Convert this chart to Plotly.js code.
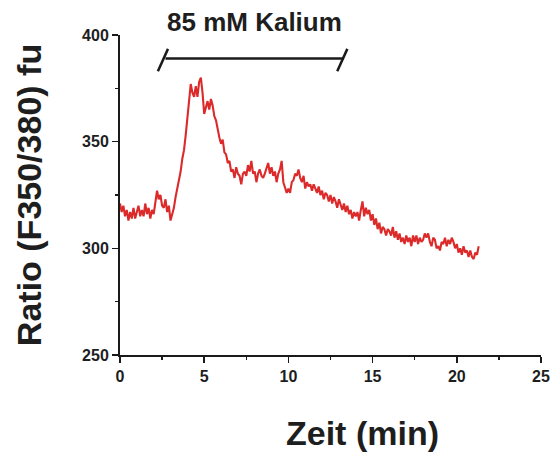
<!DOCTYPE html>
<html>
<head>
<meta charset="utf-8">
<script src="https://cdn.plot.ly/plotly-3.0.1.min.js"></script>
<style>html,body{margin:0;padding:0;background:#fff;}#chart{width:553px;height:454px;}</style>
</head>
<body>
<div id="chart"></div>
<script>
const timeMin = [
0.0,0.1,0.2,0.3,0.4,0.5,0.6,0.7,0.8,0.9,1.0,1.1,1.2,1.3,1.4,1.5,1.6,1.7,1.8,1.9,
2.0,2.1,2.2,2.3,2.4,2.5,2.6,2.7,2.8,2.9,3.0,3.1,3.2,3.3,3.4,3.5,3.6,3.7,3.8,3.9,
4.0,4.1,4.2,4.3,4.4,4.5,4.6,4.7,4.8,4.9,5.0,5.1,5.2,5.3,5.4,5.5,5.6,5.7,5.8,5.9,
6.0,6.1,6.2,6.3,6.4,6.5,6.6,6.7,6.8,6.9,7.0,7.1,7.2,7.3,7.4,7.5,7.6,7.7,7.8,7.9,
8.0,8.1,8.2,8.3,8.4,8.5,8.6,8.7,8.8,8.9,9.0,9.1,9.2,9.3,9.4,9.5,9.6,9.7,9.8,9.9,
10.0,10.1,10.2,10.3,10.4,10.5,10.6,10.7,10.8,10.9,11.0,11.1,11.2,11.3,11.4,11.5,11.6,11.7,11.8,11.9,
12.0,12.1,12.2,12.3,12.4,12.5,12.6,12.7,12.8,12.9,13.0,13.1,13.2,13.3,13.4,13.5,13.6,13.7,13.8,13.9,
14.0,14.1,14.2,14.3,14.4,14.5,14.6,14.7,14.8,14.9,15.0,15.1,15.2,15.3,15.4,15.5,15.6,15.7,15.8,15.9,
16.0,16.1,16.2,16.3,16.4,16.5,16.6,16.7,16.8,16.9,17.0,17.1,17.2,17.3,17.4,17.5,17.6,17.7,17.8,17.9,
18.0,18.1,18.2,18.3,18.4,18.5,18.6,18.7,18.8,18.9,19.0,19.1,19.2,19.3,19.4,19.5,19.6,19.7,19.8,19.9,
20.0,20.1,20.2,20.3,20.4,20.5,20.6,20.7,20.8,20.9,21.0,21.1,21.2,21.3
];
const ratio = [
321,317,320,315,318,313,317,314,319,314,317,320,315,318,315,321,316,319,314,318,
316,322,327,323,325,320,319,323,317,320,313,316,319,324,328,333,336,342,346,353,
362,368,377,373,371,376,371,378,380,373,363,366,369,365,370,367,362,360,355,352,
349,351,345,344,340,341,336,337,333,338,335,334,330,335,336,334,339,336,341,335,
336,331,335,337,334,333,335,338,340,335,338,334,336,331,335,337,341,331,328,326,
328,326,331,332,335,334,337,333,331,334,328,331,329,330,327,330,328,326,329,325,
327,323,326,325,322,325,321,324,322,319,323,320,318,321,317,320,316,318,314,317,
315,317,313,318,322,315,319,316,318,313,316,311,314,309,312,307,310,309,306,309,
308,306,310,305,308,304,307,303,305,302,306,303,305,301,306,303,306,302,305,303,
304,307,305,307,303,301,305,304,300,301,299,303,302,305,301,304,302,305,303,300,
302,298,300,297,301,298,299,296,299,296,295,298,297,301
];
const xTicks = [0,5,10,15,20,25];
const yTicks = [250,300,350,400];
const bracketStart = 2.8, bracketEnd = 13.2, bracketLevel = 389;
const stimulusLabel = '85 mM Kalium';

const font = 'Arial, "Liberation Sans", Helvetica, sans-serif';
const trace = {
  x: timeMin, y: ratio, type: 'scatter', mode: 'lines',
  line: {color: '#dc2a2a', width: 2.1}, hoverinfo: 'skip'
};
const axisCommon = {
  showline: true, linecolor: '#1a1a1a', linewidth: 2,
  ticks: 'outside', ticklen: 6, tickwidth: 1.6, tickcolor: '#1a1a1a',
  showgrid: false, zeroline: false, mirror: false,
  tickfont: {family: font, size: 16, color: '#1e1e1e', weight: 'bold'}
};
const layout = {
  width: 553, height: 454,
  margin: {l: 120, r: 12, t: 35, b: 99},
  paper_bgcolor: '#fff', plot_bgcolor: '#fff',
  showlegend: false,
  xaxis: Object.assign({}, axisCommon, {
    range: [0, 25], tickvals: xTicks, ticktext: xTicks.map(String),
    minor: {dtick: 2.5, tick0: 0, ticks: 'outside', ticklen: 3, tickwidth: 1.4, tickcolor: '#1a1a1a'}
  }),
  yaxis: Object.assign({}, axisCommon, {
    range: [250, 400], tickvals: yTicks, ticktext: yTicks.map(String),
    minor: {dtick: 25, tick0: 250, ticks: 'outside', ticklen: 3, tickwidth: 1.4, tickcolor: '#1a1a1a'},
    title: {text: '<b>Ratio (F350/380) fu</b>', font: {family: font, size: 34, color: '#1e1e1e'}, standoff: 30}
  }),
  shapes: [
    {type: 'line', xref: 'x', yref: 'y', x0: bracketStart - 0.1, x1: bracketEnd + 0.1, y0: bracketLevel, y1: bracketLevel, line: {color: '#1a1a1a', width: 2.5}},
    {type: 'line', xref: 'x', yref: 'y', x0: bracketStart - 0.55, x1: bracketStart + 0.05, y0: bracketLevel - 6, y1: bracketLevel + 4.5, line: {color: '#1a1a1a', width: 2.5}},
    {type: 'line', xref: 'x', yref: 'y', x0: bracketEnd - 0.3, x1: bracketEnd + 0.3, y0: bracketLevel - 6, y1: bracketLevel + 4.5, line: {color: '#1a1a1a', width: 2.5}}
  ],
  annotations: [
    {text: '<b>' + stimulusLabel + '</b>', xref: 'x', yref: 'paper', x: (bracketStart + bracketEnd) / 2, y: 1.04,
     xanchor: 'center', yanchor: 'middle', showarrow: false, font: {family: font, size: 26, color: '#1e1e1e'}},
    {text: '<b>Zeit (min)</b>', xref: 'paper', yref: 'paper', x: 0.577, y: -0.245,
     xanchor: 'center', yanchor: 'middle', showarrow: false, font: {family: font, size: 34, color: '#1e1e1e'}}
  ]
};
Plotly.newPlot('chart', [trace], layout, {staticPlot: true, displayModeBar: false});
</script>
</body>
</html>
